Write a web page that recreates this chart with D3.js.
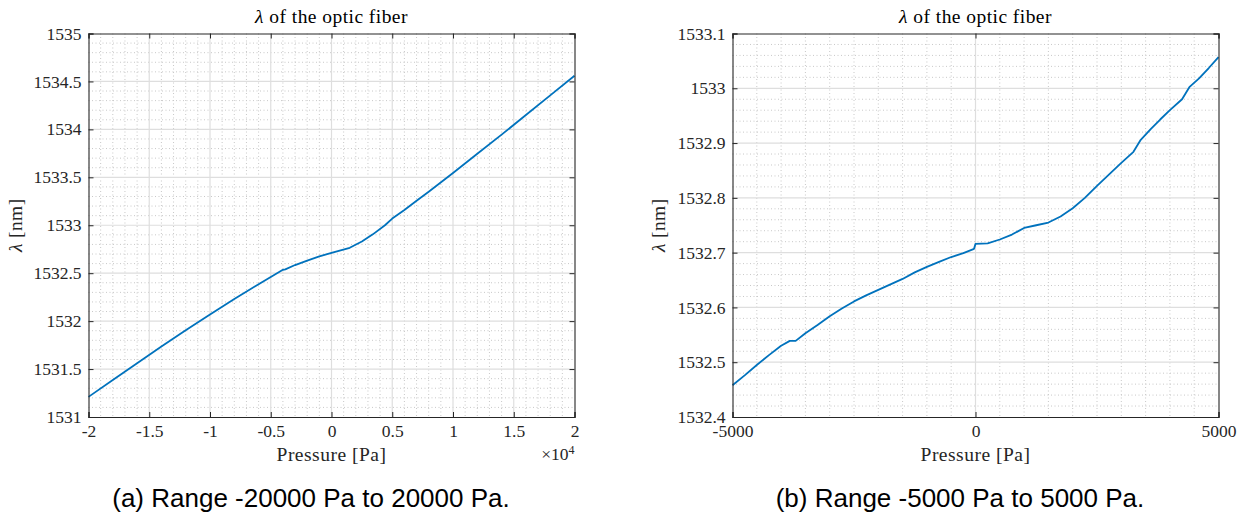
<!DOCTYPE html>
<html><head><meta charset="utf-8">
<script src="https://cdn.jsdelivr.net/npm/d3@7"></script>
<style>body{margin:0;background:#fff} svg{display:block}</style>
</head><body><svg id="c" width="1243" height="515"></svg>
<script>
// ---- data ----
const leftPressure = [-20000,-18000,-16000,-14000,-12000,-10000,-8000,-6000,-5000,-4000,-3800,-3000,-2000,-1000,0,1500,2500,3400,4400,5000,6000,7000,8000,10000,12000,14000,16000,18000,20000];
const leftLambda   = [1531.21,1531.385,1531.56,1531.735,1531.905,1532.07,1532.23,1532.385,1532.46,1532.535,1532.54,1532.585,1532.632,1532.675,1532.712,1532.765,1532.83,1532.905,1533.0,1533.07,1533.16,1533.255,1533.35,1533.545,1533.745,1533.945,1534.15,1534.355,1534.56];

const rightPressure = [-5000,-4750,-4500,-4250,-4000,-3820,-3700,-3500,-3250,-3000,-2750,-2500,-2250,-2000,-1750,-1500,-1250,-1000,-750,-500,-250,-30,0,250,500,750,1000,1250,1500,1750,2000,2250,2500,2750,3000,3250,3400,3600,3800,4000,4250,4400,4600,4800,5000];
const rightLambda   = [1532.458,1532.476,1532.495,1532.513,1532.530,1532.539,1532.539,1532.553,1532.568,1532.584,1532.598,1532.611,1532.622,1532.632,1532.642,1532.652,1532.664,1532.674,1532.683,1532.692,1532.699,1532.707,1532.716,1532.717,1532.724,1532.733,1532.745,1532.750,1532.755,1532.766,1532.781,1532.800,1532.822,1532.843,1532.864,1532.884,1532.906,1532.925,1532.943,1532.960,1532.980,1533.002,1533.018,1533.037,1533.057];

const leftXTicks  = [-20000,-15000,-10000,-5000,0,5000,10000,15000,20000];
const leftYTicks  = [1531,1531.5,1532,1532.5,1533,1533.5,1534,1534.5,1535];
const rightXTicks = [-5000,0,5000];
const rightYTicks = [1532.4,1532.5,1532.6,1532.7,1532.8,1532.9,1533,1533.1];

const titleRest = " of the optic fiber";
const xLabelText = "Pressure [Pa]";
const yLabelRest = " [nm]";
const captions = ["(a) Range -20000 Pa to 20000 Pa.", "(b) Range -5000 Pa to 5000 Pa."];

// ---- drawing ----
const svg = d3.select("#c");
const SERIF = "'Liberation Serif', 'Times New Roman', serif";
const AX = "#262626";

function fmtY(d){ return String(+d.toFixed(2)); }

function panel(o){
  const x = d3.scaleLinear().domain(o.xDomain).range([o.left, o.right]);
  const y = d3.scaleLinear().domain(o.yDomain).range([o.bottom, o.top]);
  const g = svg.append("g");
  const xMinor = d3.range(o.xDomain[0], o.xDomain[1] + 1e-9, o.xMinorStep).filter(v => !o.xTicks.some(t => Math.abs(t - v) < 1e-6));
  const yMinor = d3.range(0, Math.round((o.yDomain[1]-o.yDomain[0])/o.yMinorStep)+1).map(i => o.yDomain[0] + i*o.yMinorStep)
      .filter(v => !o.yTicks.some(t => Math.abs(t - v) < 1e-6));

  // minor grid
  g.append("g").selectAll("line").data(xMinor).join("line")
    .attr("x1", d => x(d)).attr("x2", d => x(d)).attr("y1", o.top).attr("y2", o.bottom)
    .attr("stroke", "#c8c8c8").attr("stroke-width", 1).attr("stroke-dasharray", "1,2.5");
  g.append("g").selectAll("line").data(yMinor).join("line")
    .attr("y1", d => y(d)).attr("y2", d => y(d)).attr("x1", o.left).attr("x2", o.right)
    .attr("stroke", "#c8c8c8").attr("stroke-width", 1).attr("stroke-dasharray", "1,2.5");
  // major grid
  g.append("g").selectAll("line").data(o.xTicks.slice(1, -1)).join("line")
    .attr("x1", d => x(d)).attr("x2", d => x(d)).attr("y1", o.top).attr("y2", o.bottom)
    .attr("stroke", "#dedede").attr("stroke-width", 1.2);
  g.append("g").selectAll("line").data(o.yTicks.slice(1, -1)).join("line")
    .attr("y1", d => y(d)).attr("y2", d => y(d)).attr("x1", o.left).attr("x2", o.right)
    .attr("stroke", "#dedede").attr("stroke-width", 1.2);

  // data line
  const pts = o.xs.map((v, i) => [v, o.ys[i]]);
  g.append("path").datum(pts)
    .attr("d", d3.line().x(d => x(d[0])).y(d => y(d[1])))
    .attr("fill", "none").attr("stroke", "#0072BD").attr("stroke-width", 1.8)
    .attr("stroke-linejoin", "round");

  // axes (ticks inward, box)
  const tl = 5;
  const bottomAx = g.append("g").attr("transform", `translate(0,${o.bottom})`)
    .call(d3.axisBottom(x).tickValues(o.xTicks).tickSize(-tl).tickPadding(4).tickFormat(o.xFmt));
  const topAx = g.append("g").attr("transform", `translate(0,${o.top})`)
    .call(d3.axisTop(x).tickValues(o.xTicks).tickSize(-tl).tickFormat(""));
  const leftAx = g.append("g").attr("transform", `translate(${o.left},0)`)
    .call(d3.axisLeft(y).tickValues(o.yTicks).tickSize(-tl).tickPadding(7).tickFormat(fmtY));
  const rightAx = g.append("g").attr("transform", `translate(${o.right},0)`)
    .call(d3.axisRight(y).tickValues(o.yTicks).tickSize(-tl).tickFormat(""));
  [bottomAx, topAx, leftAx, rightAx].forEach(a => {
    a.attr("font-family", SERIF).attr("font-size", 17.5);
    a.select(".domain").attr("stroke", AX).attr("stroke-width", 1.1);
    a.selectAll(".tick line").attr("stroke", AX).attr("stroke-width", 1);
    a.selectAll("text").attr("fill", AX)
      .attr("font-family", SERIF).attr("font-size", 17.5)
      .style("font-family", SERIF).style("font-size", "17.5px");
  });
  bottomAx.selectAll("text").attr("dy", "0.9em");

  // title
  const cx = (o.left + o.right) / 2;
  const t = svg.append("text").attr("x", cx).attr("y", 23).attr("text-anchor", "middle")
    .style("font-family", SERIF).style("font-size", "19.5px").style("letter-spacing", "0.45px").attr("fill", "#000");
  t.append("tspan").style("font-style", "italic").text("λ");
  t.append("tspan").text(titleRest);

  // x label
  svg.append("text").attr("x", cx).attr("y", 461).attr("text-anchor", "middle")
    .style("font-family", SERIF).style("font-size", "19.5px").style("letter-spacing", "0.5px").attr("fill", AX).text(xLabelText);

  // y label
  const yl = svg.append("text").attr("transform", `translate(${o.yLabelX},${(o.top+o.bottom)/2}) rotate(-90)`)
    .attr("text-anchor", "middle").style("font-family", SERIF).style("font-size", "19.5px").style("letter-spacing", "0.4px").attr("fill", AX);
  yl.append("tspan").style("font-style", "italic").text("λ");
  yl.append("tspan").text(yLabelRest);

  // exponent
  if (o.exponent) {
    const e = svg.append("text").attr("x", o.right).attr("y", 460).attr("text-anchor", "end")
      .style("font-family", SERIF).style("font-size", "17.5px").attr("fill", AX);
    e.append("tspan").text("×10");
    e.append("tspan").attr("dy", -6).style("font-size", "12px").text(o.exponent);
  }

  // caption
  svg.append("text").attr("x", o.captionX).attr("y", 507).attr("text-anchor", "middle")
    .style("font-family", "'Liberation Sans', Arial, sans-serif").style("font-size", "26px").attr("fill", "#000")
    .text(o.caption);
}

panel({
  xs: leftPressure, ys: leftLambda,
  xDomain: [-20000, 20000], yDomain: [1531, 1535],
  xTicks: leftXTicks, yTicks: leftYTicks,
  xMinorStep: 1000, yMinorStep: 0.1,
  xFmt: d => String(d / 10000),
  left: 88.5, right: 574.5, top: 33.5, bottom: 417,
  yLabelX: 22, exponent: "4",
  caption: captions[0], captionX: 311
});
panel({
  xs: rightPressure, ys: rightLambda,
  xDomain: [-5000, 5000], yDomain: [1532.4, 1533.1],
  xTicks: rightXTicks, yTicks: rightYTicks,
  xMinorStep: 500, yMinorStep: 0.02,
  xFmt: d => String(d),
  left: 732.5, right: 1218.5, top: 33.5, bottom: 417,
  yLabelX: 665, exponent: null,
  caption: captions[1], captionX: 960
});
</script>
</body></html>
